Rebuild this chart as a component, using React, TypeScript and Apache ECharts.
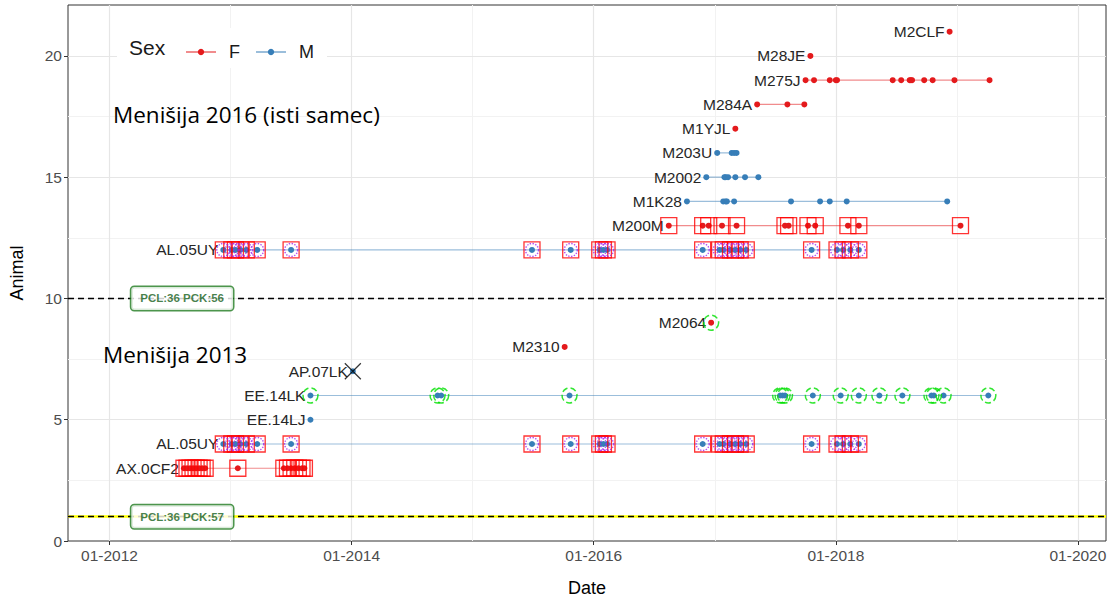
import React, { useEffect, useRef } from 'react';
import * as echarts from 'echarts';

// ---- axis ticks ----
const xMajorYears = [2012, 2014, 2016, 2018, 2020];
const xMinorYears = [2013, 2015, 2017, 2019];
const yMajor = [0, 5, 10, 15, 20];
const yMinor = [2.5, 7.5, 12.5, 17.5];

// ---- observation dates (decimal years) per animal ----
const ax0cf2Dates = [2012.615, 2012.64, 2012.665, 2012.69, 2012.715, 2012.74, 2012.765, 2012.79, 2013.06, 2013.44, 2013.47, 2013.5, 2013.53, 2013.56, 2013.59, 2013.61];
const al05uyDates = [2012.94, 2013.01, 2013.04, 2013.08, 2013.13, 2013.22, 2013.5, 2015.49, 2015.81, 2016.05, 2016.08, 2016.11, 2016.9, 2017.04, 2017.07, 2017.13, 2017.17, 2017.21, 2017.26, 2017.8, 2018.01, 2018.06, 2018.12, 2018.19];
const ee14ljDates = [2013.66];
const ee14lkDates = [2013.66, 2014.71, 2014.74, 2015.8, 2017.54, 2017.56, 2017.58, 2017.81, 2018.04, 2018.19, 2018.36, 2018.55, 2018.79, 2018.81, 2018.89, 2019.26];
const ap07lkDates = [2014.01];
const m2310Dates = [2015.76];
const m2064Dates = [2016.97];
const m200mDates = [2016.62, 2016.9, 2016.95, 2017.06, 2017.18, 2017.58, 2017.61, 2017.77, 2017.83, 2018.1, 2018.19, 2019.03];
const m1k28Dates = [2016.77, 2017.07, 2017.09, 2017.1, 2017.16, 2017.63, 2017.87, 2017.95, 2018.09, 2018.92];
const m2002Dates = [2016.93, 2017.08, 2017.09, 2017.11, 2017.17, 2017.25, 2017.36];
const m203uDates = [2017.02, 2017.14, 2017.16, 2017.18];
const m1yjlDates = [2017.17];
const m284aDates = [2017.35, 2017.6, 2017.74];
const m275jDates = [2017.75, 2017.82, 2017.95, 2018.0, 2018.01, 2018.47, 2018.54, 2018.61, 2018.62, 2018.63, 2018.73, 2018.8, 2018.98, 2019.27];
const m28jeDates = [2017.79];
const m2clfDates = [2018.94];

// ---- reference lines & boxes ----
const refLevels = [10, 1];
const refLabels = ['PCL:36 PCK:56', 'PCL:36 PCK:57'];
const refLabelDate = 2012.6;

type Animal = {
  name: string; y: number; sex: 'F' | 'M'; dates: number[];
  square?: boolean; purple?: boolean; green?: boolean; cross?: boolean;
};

const animals: Animal[] = [
  { name: 'AX.0CF2', y: 3, sex: 'F', dates: ax0cf2Dates, square: true },
  { name: 'AL.05UY', y: 4, sex: 'M', dates: al05uyDates, square: true, purple: true },
  { name: 'EE.14LJ', y: 5, sex: 'M', dates: ee14ljDates },
  { name: 'EE.14LK', y: 6, sex: 'M', dates: ee14lkDates, green: true },
  { name: 'AP.07LK', y: 7, sex: 'M', dates: ap07lkDates, cross: true },
  { name: 'M2310', y: 8, sex: 'F', dates: m2310Dates },
  { name: 'M2064', y: 9, sex: 'F', dates: m2064Dates, green: true },
  { name: 'AL.05UY', y: 12, sex: 'M', dates: al05uyDates, square: true, purple: true },
  { name: 'M200M', y: 13, sex: 'F', dates: m200mDates, square: true },
  { name: 'M1K28', y: 14, sex: 'M', dates: m1k28Dates },
  { name: 'M2002', y: 15, sex: 'M', dates: m2002Dates },
  { name: 'M203U', y: 16, sex: 'M', dates: m203uDates },
  { name: 'M1YJL', y: 17, sex: 'F', dates: m1yjlDates },
  { name: 'M284A', y: 18, sex: 'F', dates: m284aDates },
  { name: 'M275J', y: 19, sex: 'F', dates: m275jDates },
  { name: 'M28JE', y: 20, sex: 'F', dates: m28jeDates },
  { name: 'M2CLF', y: 21, sex: 'F', dates: m2clfDates },
];

const sexColor: Record<string, string> = { F: '#e41a1c', M: '#377eb8' };
const FONT = 'Liberation Sans, Arial, sans-serif';

function buildOption(): any {
  const series: any[] = [];

  // grid lines
  series.push({
    type: 'line', data: [], silent: true, z: 0,
    markLine: {
      silent: true, symbol: 'none', animation: false, label: { show: false }, z: 0,
      data: [
        ...xMinorYears.map((v) => ({ xAxis: v, lineStyle: { color: '#f2f2f2', width: 1, type: 'solid' } })),
        ...yMinor.map((v) => ({ yAxis: v, lineStyle: { color: '#f2f2f2', width: 1, type: 'solid' } })),
        ...xMajorYears.map((v) => ({ xAxis: v, lineStyle: { color: '#e6e6e6', width: 1.2, type: 'solid' } })),
        ...yMajor.slice(1).map((v) => ({ yAxis: v, lineStyle: { color: '#e6e6e6', width: 1.2, type: 'solid' } })),
      ],
    },
  });

  // yellow line at level 1
  series.push({
    type: 'line', data: [], silent: true, z: 1,
    markLine: {
      silent: true, symbol: 'none', animation: false, label: { show: false }, z: 1,
      data: [{ yAxis: refLevels[1], lineStyle: { color: '#ffff00', width: 2.5, type: 'solid' } }],
    },
  });
  // black dashed lines
  series.push({
    type: 'line', data: [], silent: true, z: 1.5,
    markLine: {
      silent: true, symbol: 'none', animation: false, label: { show: false }, z: 1.5,
      data: refLevels.map((v) => ({ yAxis: v, lineStyle: { color: '#000', width: 1.3, type: [6, 4] } })),
    },
  });

  // animal lines + points
  animals.forEach((a) => {
    const c = sexColor[a.sex];
    series.push({
      type: 'line', name: a.sex, z: 3,
      symbol: 'circle', symbolSize: 6,
      itemStyle: { color: c },
      lineStyle: { color: c, opacity: 0.5, width: 1.2 },
      label: { show: false },
      data: a.dates.map((d, i) =>
        i === 0
          ? {
              value: [d, a.y],
              label: {
                show: true, position: 'left', distance: 2, formatter: a.name,
                color: '#262626', fontSize: 15.5, fontFamily: FONT,
              },
            }
          : [d, a.y]
      ),
    });
  });

  const pts = (f: (a: Animal) => boolean | undefined) =>
    animals.filter((a) => f(a)).flatMap((a) => a.dates.map((d) => [d, a.y]));

  series.push({
    type: 'scatter', silent: true, z: 4, symbol: 'rect', symbolSize: 16,
    itemStyle: { color: 'rgba(0,0,0,0)', borderColor: '#ff0000', borderWidth: 1.3 },
    data: pts((a) => a.square),
  });
  series.push({
    type: 'scatter', silent: true, z: 4, symbol: 'circle', symbolSize: 13,
    itemStyle: { color: 'rgba(0,0,0,0)', borderColor: '#a020f0', borderWidth: 1.4, borderType: 'dotted' },
    data: pts((a) => a.purple),
  });
  series.push({
    type: 'scatter', silent: true, z: 4, symbol: 'circle', symbolSize: 15,
    itemStyle: { color: 'rgba(0,0,0,0)', borderColor: '#00e000', borderWidth: 1.5, borderType: 'dashed' },
    data: pts((a) => a.green),
  });
  series.push({
    type: 'scatter', silent: true, z: 4, symbol: 'path://M0 0L10 10M10 0L0 10', symbolSize: 16,
    itemStyle: { color: 'rgba(0,0,0,0)', borderColor: '#000', borderWidth: 1.2 },
    data: pts((a) => a.cross),
  });

  // PCL label boxes
  series.push({
    type: 'scatter', silent: true, z: 6, symbol: 'rect', symbolSize: 1,
    itemStyle: { color: 'rgba(0,0,0,0)' },
    label: {
      show: true, position: 'inside', formatter: '{b}',
      color: '#16611b', fontSize: 11.5, fontWeight: 'bold', fontFamily: FONT,
      backgroundColor: '#fff', borderColor: '#1f7a1f', borderWidth: 1.5, borderRadius: 3,
      padding: [6, 9, 5, 9],
    },
    data: refLevels.map((v, i) => ({ name: refLabels[i], value: [refLabelDate, v] })),
  });

  return {
    animation: false,
    grid: { left: 68, right: 6, top: 5, bottom: 61, show: true, borderColor: '#333', borderWidth: 1, backgroundColor: '#fff' },
    xAxis: {
      type: 'value', min: 2011.657, max: 2020.232,
      name: 'Date', nameLocation: 'middle', nameGap: 38,
      nameTextStyle: { color: '#000', fontSize: 18, fontFamily: FONT },
      axisLine: { show: false },
      axisTick: { show: true, length: 4, lineStyle: { color: '#333' }, customValues: xMajorYears },
      axisLabel: {
        customValues: xMajorYears, color: '#4d4d4d', fontSize: 15.5, margin: 6, fontFamily: FONT,
        formatter: (v: number) => '01-' + Math.round(v),
      },
      splitLine: { show: false },
    },
    yAxis: {
      type: 'value', min: 0, max: 22.1,
      name: 'Animal', nameLocation: 'middle', nameGap: 42, nameRotate: 90,
      nameTextStyle: { color: '#000', fontSize: 18, fontFamily: FONT },
      axisLine: { show: false },
      axisTick: { show: true, length: 4, lineStyle: { color: '#333' }, customValues: yMajor },
      axisLabel: { customValues: yMajor, color: '#4d4d4d', fontSize: 15.5, margin: 6, fontFamily: FONT },
      splitLine: { show: false },
    },
    legend: {
      data: ['F', 'M'], left: 180, top: 38, z: 10,
      itemWidth: 30, itemHeight: 8, itemGap: 15,
      textStyle: { color: '#1a1a1a', fontSize: 18, fontFamily: FONT, padding: [0, 0, 0, 8] },
      selectedMode: false,
    },
    graphic: [
      { type: 'rect', z: 5, shape: { x: 117, y: 28, width: 210, height: 40 }, style: { fill: '#fff' }, silent: true },
      {
        type: 'text', z: 11, x: 129, y: 47,
        style: { text: 'Sex', fill: '#1a1a1a', fontSize: 21, fontFamily: FONT, verticalAlign: 'middle' },
      },
      {
        type: 'text', z: 11, x: 113, y: 114,
        style: { text: 'Menišija 2016 (isti samec)', fill: '#000', fontSize: 22.5, fontFamily: 'Open Sans, sans-serif', verticalAlign: 'middle' },
      },
      {
        type: 'text', z: 11, x: 103, y: 354,
        style: { text: 'Menišija 2013', fill: '#000', fontSize: 22.5, fontFamily: 'Open Sans, sans-serif', verticalAlign: 'middle' },
      },
    ],
    series,
  };
}

export default function App() {
  const ref = useRef<HTMLDivElement>(null);
  useEffect(() => {
    if (!ref.current) return;
    const chart = echarts.init(ref.current, undefined, { renderer: 'svg' });
    chart.setOption(buildOption());
    return () => chart.dispose();
  }, []);
  return <div ref={ref} style={{ position: 'absolute', left: 0, top: 0, width: 1112, height: 602, background: '#fff' }} />;
}
